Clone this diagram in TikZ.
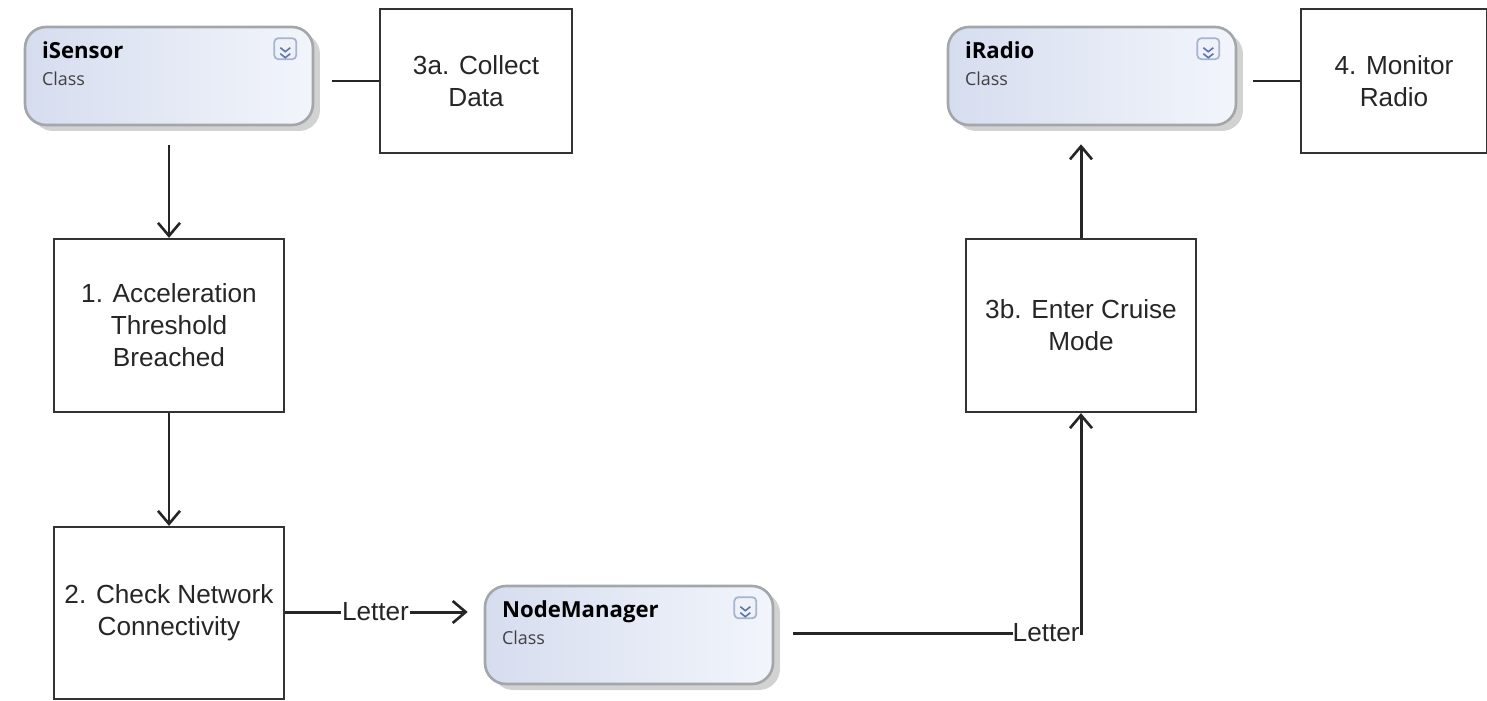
\documentclass[tikz,border=0pt]{standalone}
\usepackage{fontspec}
\setmainfont{Liberation Sans}
\newfontfamily\classfont{Open Sans}
\usetikzlibrary{arrows.meta,shadows}
\definecolor{classleft}{HTML}{D6DDEF}
\definecolor{classright}{HTML}{F2F5FB}
\definecolor{classedge}{HTML}{A4A7AA}
\definecolor{iconblue}{HTML}{5F76A8}

\begin{document}
\begin{tikzpicture}[x=0.02cm,y=-0.02cm,
  >={Straight Barb[length=2.6mm,width=4.4mm,line width=1.5pt]},
  stepbox/.style={rectangle,draw=black!80,line width=1.3pt,minimum width=4.6cm,align=center,
    font=\fontsize{14.9}{18.2}\selectfont,text=black!85,inner sep=0pt},
  classbox/.style={rectangle,rounded corners=0.42cm,draw=classedge,line width=1.5pt,
    left color=classleft,right color=classright,minimum width=5.76cm,minimum height=1.96cm,
    drop shadow={shadow xshift=0.14cm,shadow yshift=-0.12cm,fill=black!25,opacity=0.7},inner sep=0pt},
  classtitle/.style={anchor=base west,font=\classfont\bfseries\fontsize{12.6}{14}\selectfont,inner sep=0pt},
  classtype/.style={anchor=base west,font=\classfont\fontsize{10.2}{12}\selectfont,text=black!75,inner sep=0pt},
  iconbox/.style={rectangle,rounded corners=0.08cm,draw=iconblue!55,line width=1pt,fill=white!60!classleft,
    minimum width=0.44cm,minimum height=0.42cm,inner sep=0pt},
  link/.style={line width=1.7pt,draw=black!85},
  lettertext/.style={fill=white,inner sep=0.5pt,font=\fontsize{14.9}{16}\selectfont,text=black!85}]

  \useasboundingbox (0,0) rectangle (1487,700);

  % Class boxes
  \foreach \nm/\x/\y/\ttl in {isensor/169/76/iSensor,iradio/1092/76/iRadio,nodemgr/629/635/NodeManager} {
    \node[classbox] (\nm) at (\x,\y) {};
    \node[classtitle] (\nm title) at ([xshift=0.36cm,yshift=0.36cm]\nm.west) {\ttl};
    \node[classtype] (\nm type) at ([yshift=-0.54cm]\nm title.base west) {Class};
    \node[iconbox] (\nm icon) at ([xshift=-0.58cm,yshift=-0.46cm]\nm.north east) {};
    \foreach \dy in {-0.1,0.02} {
      \draw[iconblue,line width=0.9pt] ([xshift=-0.1cm,yshift=\dy cm]\nm icon.center)
        -- ([yshift=\dy cm-0.08cm]\nm icon.center) -- ([xshift=0.1cm,yshift=\dy cm]\nm icon.center);
    }
  }

  % Step boxes
  \node[stepbox,minimum width=3.84cm,minimum height=2.88cm] (collect) at (476,81) {3a. Collect\\Data};
  \node[stepbox,minimum height=3.46cm] (accel) at (169,325.5) {1. Acceleration\\Threshold\\Breached};
  \node[stepbox,minimum height=3.44cm] (check) at (169,613) {2. Check Network\\Connectivity};
  \node[stepbox,minimum height=3.46cm] (cruise) at (1081,325.5) {3b. Enter Cruise\\Mode};
  \node[stepbox,minimum width=3.72cm,minimum height=2.88cm] (monitor) at (1394,81) {4. Monitor\\Radio};

  % Connectors
  \draw[link,shorten <=0.36cm] (isensor.east |- collect.west) -- (collect.west);
  \draw[link,shorten <=0.32cm] (iradio.east |- monitor.west) -- (monitor.west);
  \draw[link,->,shorten <=0.38cm] (isensor) -- (accel);
  \draw[link,->] (accel) -- (check);
  \draw[link,->,shorten >=0.36cm] (cruise) -- (cruise.north |- iradio.south);
  \coordinate (lettera) at (check.east |- 0,612);
  \draw[link,->,shorten >=0.32cm] (lettera)
    -- node[lettertext,pos=0.455] (letterone) {Letter} (nodemgr.west |- lettera);
  \coordinate (corner) at (cruise.south |- 0,633);
  \draw[link,->,shorten <=0.38cm] (nodemgr.east |- corner) -- (corner) -- (cruise.south);
  \node[lettertext,anchor=east,inner xsep=0pt] (lettertwo) at ([xshift=-0.02cm]corner) {Letter};
\end{tikzpicture}
\end{document}
